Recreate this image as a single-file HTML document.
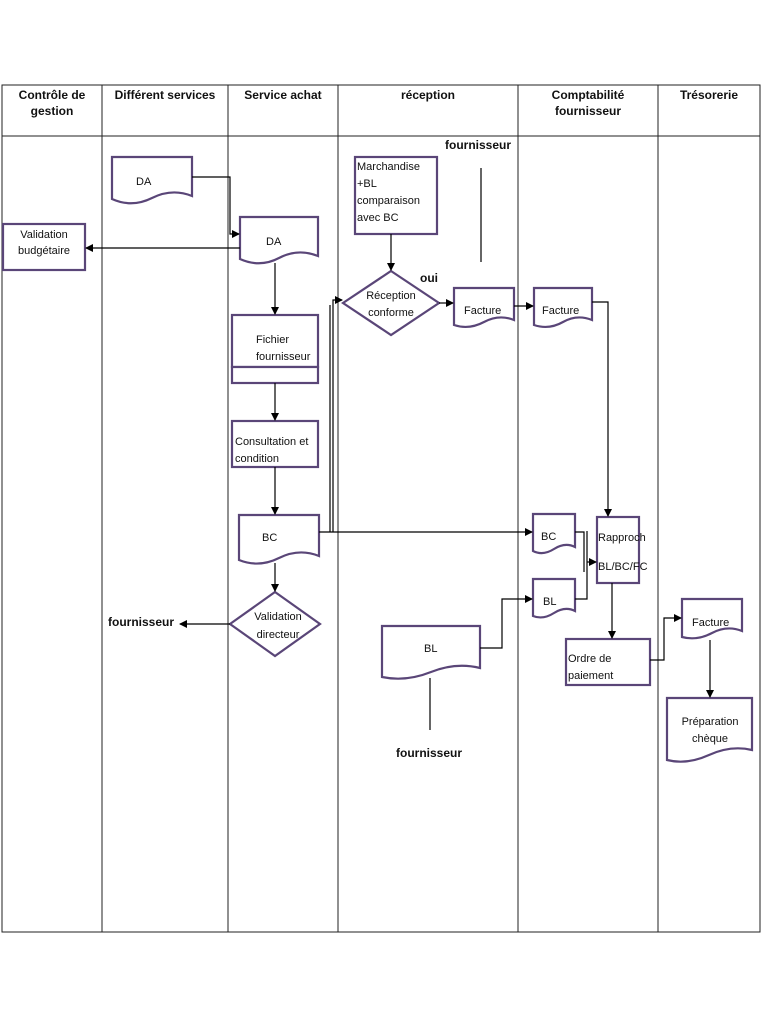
<!DOCTYPE html>
<html><head><meta charset="utf-8"><style>body{margin:0;background:#fff}svg{display:block}text{font-family:"Liberation Sans",sans-serif;font-size:11px;fill:#111}.b{font-weight:bold;font-size:12px}</style></head><body>
<svg width="768" height="1024" viewBox="0 0 768 1024" xmlns="http://www.w3.org/2000/svg">
<defs><marker id="a" markerWidth="8" markerHeight="8" refX="7" refY="4" orient="auto" markerUnits="userSpaceOnUse"><path d="M0,0 L8,4 L0,8 z" fill="#000"/></marker></defs>
<g fill="none" stroke="#222" stroke-width="1">
<rect x="2" y="85" width="758" height="847"/>
<line x1="2" y1="136" x2="760" y2="136"/>
<line x1="102" y1="85" x2="102" y2="932"/><line x1="228" y1="85" x2="228" y2="932"/>
<line x1="338" y1="85" x2="338" y2="932"/><line x1="518" y1="85" x2="518" y2="932"/>
<line x1="658" y1="85" x2="658" y2="932"/>
</g>
<g fill="#fff" stroke="#5a4678" stroke-width="2.2">
<path d="M112,157 H192 V196 Q172,188 152,198 T112,199 Z"/>
<path d="M240,217 H318 V256 Q298,248 279,258 T240,259 Z"/>
<rect x="3" y="224" width="82" height="46"/>
<rect x="232" y="315" width="86" height="52"/><rect x="232" y="367" width="86" height="16"/>
<rect x="232" y="421" width="86" height="46"/>
<path d="M239,515 H319 V556 Q299,548 279,558 T239,560 Z"/>
<path d="M275,592 L320,624 L275,656 L230,624 Z"/>
<rect x="355" y="157" width="82" height="77"/>
<path d="M391,271 L439,303 L391,335 L343,303 Z"/>
<path d="M454,288 H514 V320 Q499,314 484,322 T454,325 Z"/>
<path d="M534,288 H592 V320 Q577,314 563,322 T534,325 Z"/>
<path d="M533,514 H575 V547 Q565,542 554,549 T533,551 Z"/>
<path d="M533,579 H575 V611 Q565,606 554,613 T533,616 Z"/>
<rect x="597" y="517" width="42" height="66"/>
<path d="M382,626 H480 V668 Q456,662 431,672 T382,677 Z"/>
<rect x="566" y="639" width="84" height="46"/>
<path d="M682,599 H742 V631 Q727,625 712,633 T682,637 Z"/>
<path d="M667,698 H752 V750 Q731,745 709,755 T667,760 Z"/>
</g>
<g fill="none" stroke="#000" stroke-width="1.2">
<path d="M192,177 H230 V234 H239" marker-end="url(#a)"/>
<path d="M240,248 H86" marker-end="url(#a)"/>
<path d="M275,263 V314" marker-end="url(#a)"/>
<path d="M275,383 V420" marker-end="url(#a)"/>
<path d="M275,467 V514" marker-end="url(#a)"/>
<path d="M275,563 V591" marker-end="url(#a)"/>
<path d="M230,624 H180" marker-end="url(#a)"/>
<path d="M319,532 H532" marker-end="url(#a)"/>
<path d="M330,532 V305"/><path d="M333,532 V300 H342" marker-end="url(#a)"/>
<path d="M391,234 V270" marker-end="url(#a)"/>
<path d="M439,303 H453" marker-end="url(#a)"/>
<path d="M514,306 H533" marker-end="url(#a)"/>
<path d="M592,302 H608 V516" marker-end="url(#a)"/>
<path d="M481,168 V262"/>
<path d="M575,532 H584 V572"/><path d="M575,599 H587 V531"/>
<path d="M587,562 H596" marker-end="url(#a)"/>
<path d="M612,583 V638" marker-end="url(#a)"/>
<path d="M480,648 H502 V599 H532" marker-end="url(#a)"/>
<path d="M430,678 V730"/>
<path d="M650,660 H664 V618 H681" marker-end="url(#a)"/>
<path d="M710,640 V697" marker-end="url(#a)"/>
</g>
<g class="b">
<text class="b" x="52" y="99" text-anchor="middle">Contrôle de</text>
<text class="b" x="52" y="115" text-anchor="middle">gestion</text>
<text class="b" x="165" y="99" text-anchor="middle">Différent services</text>
<text class="b" x="283" y="99" text-anchor="middle">Service achat</text>
<text class="b" x="428" y="99" text-anchor="middle">réception</text>
<text class="b" x="588" y="99" text-anchor="middle">Comptabilité</text>
<text class="b" x="588" y="115" text-anchor="middle">fournisseur</text>
<text class="b" x="709" y="99" text-anchor="middle">Trésorerie</text>
<text class="b" x="445" y="149">fournisseur</text>
<text class="b" x="420" y="282">oui</text>
<text class="b" x="108" y="626">fournisseur</text>
<text class="b" x="396" y="757">fournisseur</text>
</g>
<g>
<text x="136" y="185">DA</text><text x="266" y="245">DA</text>
<text x="44" y="238" text-anchor="middle">Validation</text><text x="44" y="254" text-anchor="middle">budgétaire</text>
<text x="256" y="343">Fichier</text><text x="256" y="360">fournisseur</text>
<text x="235" y="445">Consultation et</text><text x="235" y="462">condition</text>
<text x="262" y="541">BC</text>
<text x="278" y="620" text-anchor="middle">Validation</text><text x="278" y="638" text-anchor="middle">directeur</text>
<text x="357" y="170">Marchandise</text><text x="357" y="187">+BL</text><text x="357" y="204">comparaison</text><text x="357" y="221">avec BC</text>
<text x="391" y="299" text-anchor="middle">Réception</text><text x="391" y="316" text-anchor="middle">conforme</text>
<text x="464" y="314">Facture</text><text x="542" y="314">Facture</text>
<text x="541" y="540">BC</text><text x="543" y="605">BL</text>
<text x="598" y="541">Rapproch</text><text x="598" y="570">BL/BC/FC</text>
<text x="424" y="652">BL</text>
<text x="568" y="662">Ordre de</text><text x="568" y="679">paiement</text>
<text x="692" y="626">Facture</text>
<text x="710" y="725" text-anchor="middle">Préparation</text><text x="710" y="742" text-anchor="middle">chèque</text>
</g>
</svg>
</body></html>
